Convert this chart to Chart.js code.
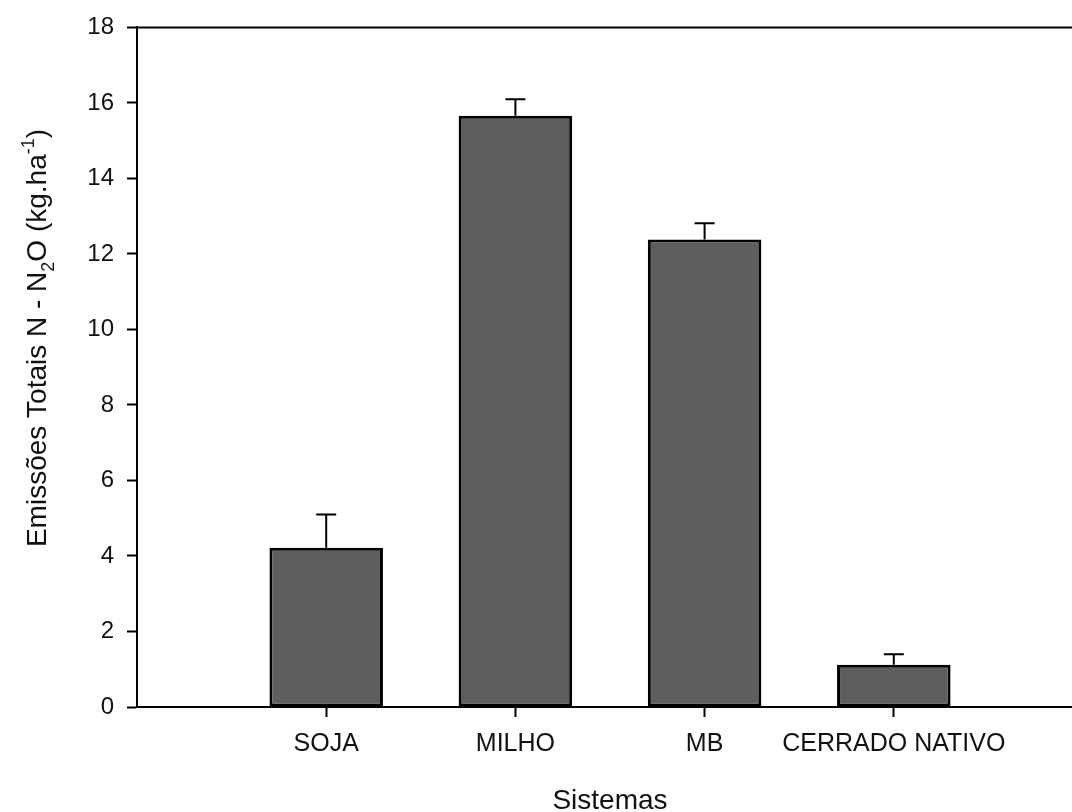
<!DOCTYPE html>
<html>
<head>
<meta charset="utf-8">
<script src="https://cdn.jsdelivr.net/npm/chart.js@4/dist/chart.umd.min.js"></script>
<style>
  html, body { margin: 0; padding: 0; background: #fff; overflow: hidden; }
</style>
</head>
<body>
<canvas id="n2oChart" width="1100" height="830"></canvas>
<script>
// categories (empty slots at both ends keep the axis running from 0 to 5)
const sistemas = ['', 'SOJA', 'MILHO', 'MB', 'CERRADO NATIVO', ''];
const emissoes = [null, 4.22, 15.66, 12.38, 1.12, null];
const erros = [null, 0.88, 0.44, 0.43, 0.28, null];
const yTicks = [0, 2, 4, 6, 8, 10, 12, 14, 16, 18];

const fontFamily = '"Liberation Sans", Arial, sans-serif';

// upper-only error bars like the original figure
const errorBars = {
    id: 'errorBars',
    afterDatasetsDraw(chart) {
        const ctx = chart.ctx;
        const yScale = chart.scales.y;
        const meta = chart.getDatasetMeta(0);
        ctx.save();
        ctx.strokeStyle = '#000';
        ctx.lineWidth = 2;
        meta.data.forEach((bar, i) => {
            if (emissoes[i] == null) return;
            const yTop = yScale.getPixelForValue(emissoes[i] + erros[i]);
            ctx.beginPath();
            ctx.moveTo(bar.x, bar.y);
            ctx.lineTo(bar.x, yTop);
            ctx.moveTo(bar.x - 10, yTop);
            ctx.lineTo(bar.x + 10, yTop);
            ctx.stroke();
        });
        ctx.restore();
    }
};

// top and right frame lines
const frame = {
    id: 'frame',
    afterDraw(chart) {
        const {ctx, chartArea} = chart;
        ctx.save();
        ctx.strokeStyle = '#000';
        ctx.lineWidth = 2;
        ctx.beginPath();
        ctx.moveTo(chartArea.left - 1, chartArea.top);
        ctx.lineTo(chartArea.right, chartArea.top);
        ctx.lineTo(chartArea.right, chartArea.bottom);
        ctx.stroke();
        ctx.restore();
    }
};

// y title with subscript and superscript
const yTitle = {
    id: 'yTitle',
    afterDraw(chart) {
        const ctx = chart.ctx;
        const size = 28;
        const small = 18;
        const parts = [
            {t: 'Emissões Totais N - N', f: size, dy: 0},
            {t: '2', f: small, dy: 8},
            {t: 'O (kg.ha', f: size, dy: 0},
            {t: '-1', f: small, dy: -12},
            {t: ')', f: size, dy: 0}
        ];
        ctx.save();
        ctx.fillStyle = '#111';
        ctx.textBaseline = 'alphabetic';
        ctx.textAlign = 'left';
        let total = 0;
        parts.forEach(p => {
            ctx.font = p.f + 'px ' + fontFamily;
            p.w = ctx.measureText(p.t).width;
            total += p.w;
        });
        ctx.translate(46, 338);
        ctx.rotate(-Math.PI / 2);
        let x = -total / 2;
        parts.forEach(p => {
            ctx.font = p.f + 'px ' + fontFamily;
            ctx.fillText(p.t, x, p.dy);
            x += p.w;
        });
        ctx.restore();
    }
};

const ctx1 = document.getElementById('n2oChart').getContext('2d');
new Chart(ctx1, {
    type: 'bar',
    data: {
        labels: sistemas,
        datasets: [{
            data: emissoes,
            backgroundColor: '#5e5e5e',
            borderColor: '#000',
            borderWidth: 3,
            borderSkipped: false,
            categoryPercentage: 0.6,
            barPercentage: 1.0
        }]
    },
    options: {
        responsive: false,
        animation: false,
        layout: {
            padding: { top: 26, right: 17, left: 0, bottom: 0 }
        },
        plugins: {
            legend: { display: false },
            tooltip: { enabled: false }
        },
        scales: {
            x: {
                offset: false,
                afterFit: (scale) => { scale.height = 123; },
                border: { display: true, color: '#000', width: 2 },
                grid: {
                    display: true,
                    offset: false,
                    drawOnChartArea: false,
                    drawTicks: true,
                    tickLength: 10,
                    tickWidth: 2,
                    tickColor: (c) => (c.index === 0 || c.index === sistemas.length - 1) ? 'rgba(0,0,0,0)' : '#000'
                },
                ticks: {
                    color: '#111',
                    autoSkip: false,
                    maxRotation: 0,
                    padding: 12,
                    font: { family: fontFamily, size: 25 }
                },
                title: {
                    display: true,
                    text: 'Sistemas',
                    color: '#111',
                    font: { family: fontFamily, size: 28, lineHeight: 1.2 },
                    padding: { top: 0, bottom: 12 }
                }
            },
            y: {
                min: 0,
                max: 18,
                afterFit: (scale) => { scale.width = 137; },
                afterBuildTicks: (scale) => { scale.ticks = yTicks.map(v => ({ value: v })); },
                border: { display: true, color: '#000', width: 2 },
                grid: {
                    display: true,
                    drawOnChartArea: false,
                    drawTicks: true,
                    tickLength: 10,
                    tickWidth: 2,
                    tickColor: '#000'
                },
                ticks: {
                    color: '#111',
                    padding: 13,
                    font: { family: fontFamily, size: 24 }
                }
            }
        }
    },
    plugins: [errorBars, frame, yTitle]
});
</script>
</body>
</html>
